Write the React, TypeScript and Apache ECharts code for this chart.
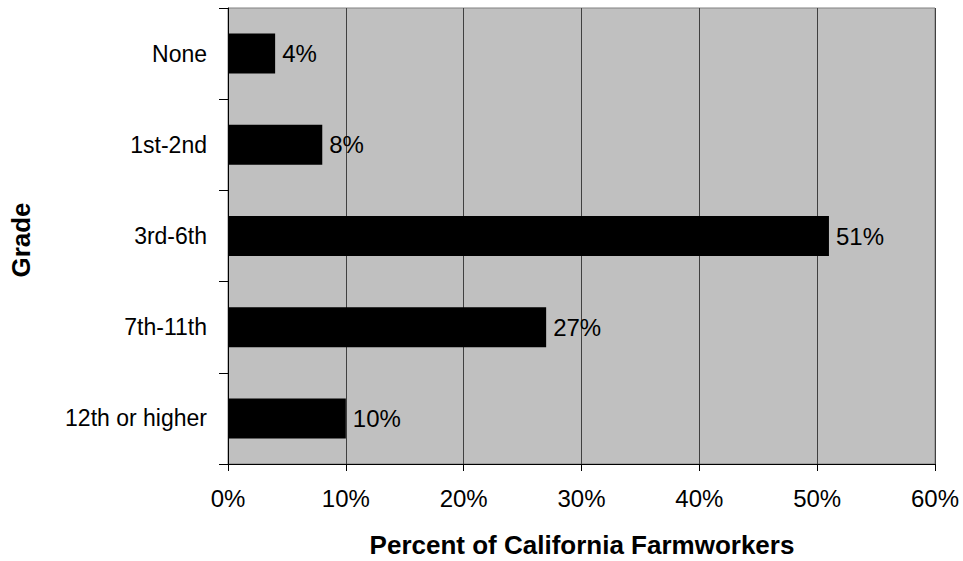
import React, { useEffect, useRef } from "react";
import * as echarts from "echarts";

const categories = ["None", "1st-2nd", "3rd-6th", "7th-11th", "12th or higher"];
const values = [4, 8, 51, 27, 10];
const xTicks = [0, 10, 20, 30, 40, 50, 60];
const xTitle = "Percent of California Farmworkers";
const yTitle = "Grade";

export default function App() {
  const ref = useRef<HTMLDivElement>(null);
  useEffect(() => {
    if (!ref.current) return;
    const chart = echarts.init(ref.current, undefined, { renderer: "svg" });
    chart.setOption({
      animation: false,
      backgroundColor: "#ffffff",
      textStyle: { fontFamily: "Liberation Sans, Arial, sans-serif" },
      grid: {
        left: 228,
        right: 28,
        top: 8,
        bottom: 97,
        show: true,
        backgroundColor: "#c0c0c0",
        borderColor: "#808080",
        borderWidth: 1,
      },
      xAxis: {
        type: "value",
        min: xTicks[0],
        max: xTicks[xTicks.length - 1],
        interval: 10,
        axisLine: { show: true, lineStyle: { color: "#000000", width: 1 } },
        axisTick: { show: true, length: 7, lineStyle: { color: "#000000" } },
        axisLabel: {
          formatter: "{value}%",
          color: "#000000",
          fontSize: 24,
          margin: 22,
          fontFamily: "Liberation Sans, Arial, sans-serif",
        },
        splitLine: { show: true, lineStyle: { color: "#404040", width: 1 } },
      },
      yAxis: {
        type: "category",
        data: categories,
        inverse: true,
        axisLine: { show: true, lineStyle: { color: "#000000", width: 1 } },
        axisTick: { show: true, length: 9, alignWithLabel: false, lineStyle: { color: "#000000" } },
        axisLabel: {
          color: "#000000",
          fontSize: 23,
          margin: 21,
          fontFamily: "Liberation Sans, Arial, sans-serif",
        },
        splitLine: { show: false },
      },
      series: [
        {
          type: "bar",
          data: values,
          barWidth: 40,
          itemStyle: { color: "#000000" },
          label: {
            show: true,
            position: "right",
            distance: 7,
            formatter: "{c}%",
            color: "#000000",
            fontSize: 24,
            fontFamily: "Liberation Sans, Arial, sans-serif",
          },
        },
      ],
      graphic: [
        {
          type: "text",
          x: 582,
          y: 545,
          style: {
            text: xTitle,
            fill: "#000000",
            align: "center",
            verticalAlign: "middle",
            font: "bold 26px 'Liberation Sans', Arial, sans-serif",
          },
        },
        {
          type: "text",
          x: 21,
          y: 240,
          rotation: Math.PI / 2,
          style: {
            text: yTitle,
            fill: "#000000",
            align: "center",
            verticalAlign: "middle",
            font: "bold 26px 'Liberation Sans', Arial, sans-serif",
          },
        },
      ],
    });
    return () => chart.dispose();
  }, []);
  return (
    <div
      ref={ref}
      style={{ position: "fixed", left: 0, top: 0, width: 963, height: 561 }}
    />
  );
}
